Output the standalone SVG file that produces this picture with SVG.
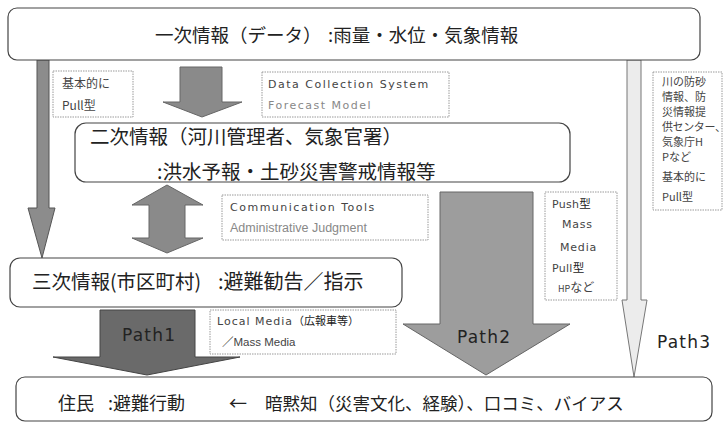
<svg xmlns="http://www.w3.org/2000/svg" width="725" height="424" viewBox="0 0 725 424">
<style>
.box{fill:#fff;stroke:#444;stroke-width:1.2}
.note{fill:#fff;stroke:#9a9a9a;stroke-width:1;stroke-dasharray:1.5 1}
.jp{font-family:"Noto Sans CJK JP","Noto Sans",sans-serif;fill:#222}
.big{font-size:19.5px}
.sm{font-family:"Noto Sans CJK JP","Noto Sans",sans-serif;font-size:12px;fill:#444}
.rn{font-family:"Noto Sans CJK JP","Noto Sans",sans-serif;font-size:11px;fill:#444}
.lat{font-family:"DejaVu Sans","Noto Sans CJK JP",sans-serif;font-size:11px;fill:#444;letter-spacing:1.5px}
.lt{fill:#888}
.nar{font-family:"Liberation Sans","Noto Sans CJK JP",sans-serif;font-size:12.5px;fill:#888}
.path{font-family:"DejaVu Sans",sans-serif;font-size:17px;fill:#222;letter-spacing:1.2px}
.arr{stroke-width:1;stroke-linejoin:miter}
</style>
<rect width="725" height="424" fill="#fff"/>
<g id="connectors">
  <polygon class="arr" points="37,60 49,60 49,208 55,208 42,258 28,208 37,208" fill="#8c8c8c" stroke="#555"/>
  <polygon class="arr" points="180,67 222,67 222,102 242,102 202,117 163,102 180,102" fill="#8a8a8a" stroke="#666"/>
  <polygon class="arr" points="167,185 203,205 185,205 185,238 203,238 167,253 132,238 149,238 149,205 132,205" fill="#8a8a8a" stroke="#666"/>
  <polygon class="arr" points="100,310 195,310 195,357 240,357 147,375 53,357 100,357" fill="#6a6a6a" stroke="#444"/>
  <polygon class="arr" points="440,192 533,192 533,324 570,324 486,375 403,324 440,324" fill="#9d9d9d" stroke="#666"/>
  <polygon class="arr" points="627,60 641,60 641,300 647,300 634,377 622,300 627,300" fill="#ececec" stroke="#777"/>
  <text class="path" x="122" y="341">Path1</text>
  <text class="path" x="457" y="343">Path2</text>
  <text class="path" x="657" y="348">Path3</text>
</g>
<g id="primary">
  <rect class="box" x="8" y="8" width="692" height="52" rx="9"/>
  <text class="jp" font-size="18.5" x="155" y="42">一次情報（データ）</text>
  <text class="jp" font-size="18.5" x="328" y="42">:雨量・水位・気象情報</text>
</g>
<g id="note-pull-left">
  <rect class="note" x="53" y="71" width="80" height="46"/>
  <text class="sm" x="62" y="88">基本的に</text>
  <text class="sm" x="62" y="110">Pull型</text>
</g>
<g id="note-data">
  <rect class="note" x="262" y="72" width="187" height="45"/>
  <text class="lat" x="268" y="88">Data Collection System</text>
  <text class="lat lt" x="268" y="109">Forecast Model</text>
</g>
<g id="note-right">
  <rect class="note" x="653" y="72" width="69" height="138"/>
  <text class="rn" x="662" y="86">川の防砂</text>
  <text class="rn" x="662" y="101">情報、防</text>
  <text class="rn" x="662" y="116">災情報提</text>
  <text class="rn" x="662" y="131" font-size="10" letter-spacing="-0.4">供センター、</text>
  <text class="rn" x="662" y="146">気象庁H</text>
  <text class="rn" x="662" y="161">Pなど</text>
  <text class="rn" x="662" y="181">基本的に</text>
  <text class="rn" x="662" y="201">Pull型</text>
</g>
<g id="secondary">
  <rect class="box" x="75" y="123" width="495" height="59" rx="11"/>
  <text class="jp big" x="90" y="144">二次情報（河川管理者、気象官署）</text>
  <text class="jp big" x="157" y="179">:洪水予報・土砂災害警戒情報等</text>
</g>
<g id="note-comm">
  <rect class="note" x="222" y="195" width="206" height="45"/>
  <text class="lat" x="230" y="211">Communication Tools</text>
  <text class="nar" x="230" y="232">Administrative Judgment</text>
</g>
<g id="note-push">
  <rect class="note" x="545" y="192" width="72" height="108"/>
  <text class="lat" x="552" y="208" style="letter-spacing:0.3px">Push<tspan class="jp" font-size="11.5">型</tspan></text>
  <text class="lat" x="562" y="228" style="letter-spacing:0.8px">Mass</text>
  <text class="lat" x="560" y="251" style="letter-spacing:0.8px">Media</text>
  <text class="lat" x="552" y="272" style="letter-spacing:0.3px">Pull<tspan class="jp" font-size="11.5">型</tspan></text>
  <text class="sm" x="558" y="292"><tspan font-size="9">HP</tspan>など</text>
</g>
<g id="tertiary">
  <rect class="box" x="10" y="258" width="392" height="49" rx="10"/>
  <text class="jp" font-size="19.5" x="32" y="289">三次情報(市区町村)</text>
  <text class="jp" font-size="20" x="218" y="289">:避難勧告／指示</text>
</g>
<g id="note-local">
  <rect class="note" x="210" y="310" width="186" height="44"/>
  <text class="lat" x="217" y="325" style="letter-spacing:1px">Local Media<tspan class="jp" style="letter-spacing:0">（広報車等）</tspan></text>
  <text class="jp" font-size="11.5" x="222" y="346" fill="#444">／<tspan font-family="Liberation Sans" font-size="11.5" fill="#444">Mass Media</tspan></text>
</g>
<g id="residents">
  <rect class="box" x="16" y="377" width="696" height="44" rx="9"/>
  <text class="jp" font-size="18" x="58" y="410">住民</text>
  <text class="jp" font-size="18" x="108" y="410">:避難行動</text>
  <text class="jp" font-size="18" x="229" y="410">←</text>
  <text class="jp" font-size="17.5" x="265" y="410">暗黙知（災害文化、経験）、口コミ、バイアス</text>
</g>
</svg>
